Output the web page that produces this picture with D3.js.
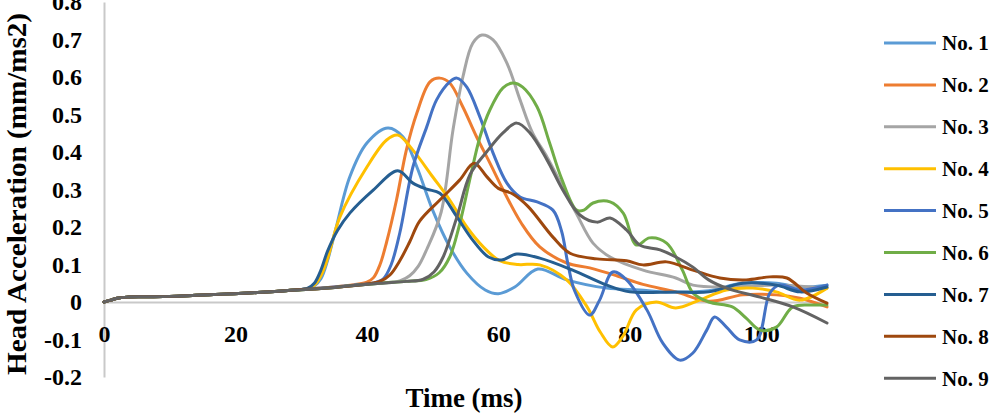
<!DOCTYPE html>
<html>
<head>
<meta charset="utf-8">
<script src="https://cdn.jsdelivr.net/npm/d3@7/dist/d3.min.js"></script>
<style>
  html, body { margin: 0; padding: 0; background: #fff; }
  svg { display: block; }
  text { font-family: "Liberation Serif", "Times New Roman", serif; font-weight: bold; fill: #000; }
</style>
</head>
<body>
<svg id="chart" width="1006" height="414"></svg>
<script>
// ---- data (time in ms, head acceleration in mm/ms2) ----
const seriesNames = ["No. 1", "No. 2", "No. 3", "No. 4", "No. 5", "No. 6", "No. 7", "No. 8", "No. 9"];
const seriesColors = ["#5B9BD5", "#ED7D31", "#A5A5A5", "#FFC000", "#4472C4", "#70AD47", "#255E91", "#9E480E", "#636363"];

const commonStart = [[0,0],[1,0.005],[2,0.01],[3.5,0.013],[6,0.014],[10,0.015],[14,0.018],[18,0.021],[22,0.024],[26,0.028],[29,0.032]];

const no1 = [[31,0.036],[32,0.043],[33,0.062],[34,0.11],[35.2,0.19],[37.4,0.334],[40,0.424],[43.2,0.464],[45.5,0.44],[47.6,0.36],[50,0.245],[52.6,0.147],[55.2,0.077],[58,0.032],[60,0.022],[62.5,0.04],[66,0.088],[70.4,0.059],[76.5,0.037],[81.5,0.032],[85,0.027],[92,0.03],[97,0.05],[102.3,0.05],[106,0.04],[110,0.045]];
const no2 = [[32,0.036],[35,0.04],[38,0.046],[40,0.053],[41,0.065],[42,0.1],[43,0.16],[44.5,0.272],[46,0.405],[47.6,0.504],[49.6,0.587],[51.1,0.597],[52.6,0.584],[54.6,0.52],[56.7,0.44],[58.7,0.371],[60.7,0.3],[63.5,0.21],[66.3,0.147],[70.4,0.104],[73.9,0.091],[78,0.07],[82,0.047],[87,0.027],[92,0.002],[97.2,0.019],[102.3,0.019],[105.9,0.01],[110,-0.013]];
const no3 = [[33,0.036],[38,0.044],[42,0.05],[45,0.056],[46.5,0.07],[47.8,0.095],[49.1,0.14],[51.3,0.24],[53.1,0.459],[54.6,0.6],[56.1,0.69],[57.5,0.712],[59.2,0.699],[61.3,0.637],[63.3,0.539],[65.2,0.451],[67.4,0.387],[69.4,0.32],[71.9,0.235],[74.4,0.157],[77,0.12],[82,0.085],[87,0.064],[89.6,0.045],[94.7,0.04],[102.3,0.045],[110,0.037]];
const no4 = [[31,0.036],[32,0.045],[33,0.07],[34,0.115],[35.9,0.227],[40,0.36],[43,0.432],[44.7,0.445],[47,0.405],[50,0.334],[52.6,0.272],[55.2,0.2],[57.7,0.147],[60.2,0.11],[63,0.1],[66.3,0.099],[70.4,0.059],[73.5,-0.013],[75.5,-0.08],[77.4,-0.12],[79,-0.09],[81,-0.021],[84,0],[87,-0.016],[90.6,0.005],[94.7,0.032],[98.7,0.037],[102.3,0.027],[105.9,0.005],[110,0.037]];
const no5 = [[32,0.036],[35,0.04],[38,0.045],[41,0.051],[42.5,0.062],[43.7,0.1],[45,0.184],[47,0.36],[49.1,0.467],[50.6,0.539],[52.6,0.587],[53.7,0.597],[55.2,0.573],[57.2,0.493],[59.2,0.397],[61.3,0.317],[63.3,0.28],[65.9,0.267],[68.3,0.245],[69.6,0.19],[70.6,0.1],[71.6,0.03],[73.9,-0.035],[75.4,0.005],[77.4,0.08],[79.5,0.059],[82.6,-0.021],[85,-0.109],[87.6,-0.155],[89.6,-0.136],[91.7,-0.075],[92.9,-0.04],[94.7,-0.067],[96.7,-0.101],[99.3,-0.101],[101.3,0.024],[102.8,0.045],[105.9,0.032],[110,0.045]];
const no6 = [[33,0.036],[38,0.044],[42,0.05],[46,0.055],[49,0.06],[51,0.078],[52.6,0.12],[54,0.2],[55.7,0.33],[57.2,0.44],[58.7,0.512],[60.7,0.571],[62.2,0.584],[63.7,0.573],[65.9,0.52],[67.8,0.424],[69.6,0.33],[71.9,0.245],[73,0.245],[74.4,0.264],[77,0.267],[79,0.237],[81,0.152],[83,0.171],[85.6,0.157],[88,0.085],[89.6,0.024],[92,0],[95.6,-0.013],[97.7,-0.043],[99.8,-0.075],[102.3,-0.067],[104.8,-0.013],[107.8,-0.008],[110,-0.008]];
const no7 = [[31,0.037],[32,0.05],[33,0.085],[34,0.135],[35.5,0.19],[37.4,0.237],[41,0.299],[44.7,0.35],[47,0.317],[49.1,0.301],[51.1,0.29],[53.7,0.227],[56.1,0.165],[58.5,0.12],[60.5,0.112],[62.8,0.128],[66.3,0.117],[71.3,0.085],[76.5,0.045],[80,0.027],[87,0.027],[92,0.027],[97.2,0.05],[102.3,0.045],[105.9,0.027],[110,0.04]];
const no8 = [[33,0.036],[37,0.042],[40,0.048],[42,0.055],[43.5,0.072],[45,0.11],[46.5,0.16],[48,0.215],[51.1,0.272],[54.1,0.325],[56.3,0.37],[58.2,0.335],[60,0.303],[62.2,0.288],[64.5,0.255],[68.3,0.173],[70.9,0.13],[75,0.115],[79.5,0.11],[82,0.099],[85.6,0.107],[89.6,0.085],[93.7,0.064],[97.7,0.059],[101.3,0.067],[103.9,0.064],[106.9,0.024],[110,-0.003]];
const no9 = [[33,0.036],[38,0.044],[42,0.05],[46,0.055],[48.5,0.06],[50.2,0.08],[51.6,0.12],[53.7,0.227],[55.7,0.34],[58.2,0.4],[60.7,0.451],[62.8,0.477],[64.8,0.451],[67.4,0.379],[69.8,0.299],[72.4,0.232],[75,0.213],[77,0.224],[79.5,0.192],[81.5,0.152],[84.6,0.139],[87,0.12],[89.6,0.093],[92,0.059],[94.7,0.037],[99.8,0.013],[104.8,-0.013],[110,-0.056]];

const seriesData = [no1, no2, no3, no4, no5, no6, no7, no8, no9];

const xTicks = [0, 20, 40, 60, 80, 100];
const yTicks = [0.8, 0.7, 0.6, 0.5, 0.4, 0.3, 0.2, 0.1, 0, -0.1, -0.2];
const yTickLabels = ["0.8", "0.7", "0.6", "0.5", "0.4", "0.3", "0.2", "0.1", "0", "-0.1", "-0.2"];
const xTitle = "Time (ms)";
const yTitle = "Head Acceleration (mm/ms2)";

// ---- drawing ----
const svg = d3.select("#chart");
const x = d3.scaleLinear().domain([0, 110]).range([104, 827]);
const y = d3.scaleLinear().domain([-0.2, 0.8]).range([377, 2]);
const axisColor = "#C9C9C9";

// y axis
const yAxis = svg.append("g").attr("transform", `translate(${x(0)},0)`)
  .call(d3.axisLeft(y).tickValues(yTicks).tickSize(0).tickPadding(22)
    .tickFormat((d, i) => yTickLabels[i]));
yAxis.select(".domain").attr("stroke", axisColor).attr("stroke-width", 2);
yAxis.selectAll("text").attr("font-size", 24).attr("fill", "#000")
  .style("font-family", '"Liberation Serif", "Times New Roman", serif').style("font-weight", "bold");

// x axis (crosses at 0)
const xAxis = svg.append("g").attr("transform", `translate(0,${y(0)})`)
  .call(d3.axisBottom(x).tickValues(xTicks).tickSize(0).tickFormat(d3.format("d")));
xAxis.select(".domain").attr("stroke", axisColor).attr("stroke-width", 2);
xAxis.selectAll("text").attr("font-size", 24).attr("fill", "#000").attr("y", 32).attr("dy", "0.35em")
  .style("font-family", '"Liberation Serif", "Times New Roman", serif').style("font-weight", "bold");

// lines
const line = d3.line().x(d => x(d[0])).y(d => y(d[1])).curve(d3.curveCatmullRom.alpha(0.5));
seriesData.forEach((pts, i) => {
  svg.append("path")
    .datum(commonStart.concat(pts))
    .attr("fill", "none")
    .attr("stroke", seriesColors[i])
    .attr("stroke-width", 3)
    .attr("stroke-linejoin", "round")
    .attr("stroke-linecap", "round")
    .attr("d", line);
});

// axis titles
svg.append("text")
  .attr("x", 464).attr("y", 407)
  .attr("text-anchor", "middle").attr("font-size", 27)
  .text(xTitle);
svg.append("text")
  .attr("transform", "translate(26,194) rotate(-90)")
  .attr("text-anchor", "middle").attr("font-size", 27)
  .attr("textLength", 362).attr("lengthAdjust", "spacingAndGlyphs")
  .text(yTitle);

// legend
const legend = svg.append("g");
seriesNames.forEach((name, i) => {
  const ly = 43 + i * 41.9;
  legend.append("line")
    .attr("x1", 884).attr("x2", 936).attr("y1", ly).attr("y2", ly)
    .attr("stroke", seriesColors[i]).attr("stroke-width", 3);
  legend.append("text")
    .attr("x", 942).attr("y", ly).attr("dy", "0.35em")
    .attr("font-size", 21)
    .text(name);
});
</script>
</body>
</html>
